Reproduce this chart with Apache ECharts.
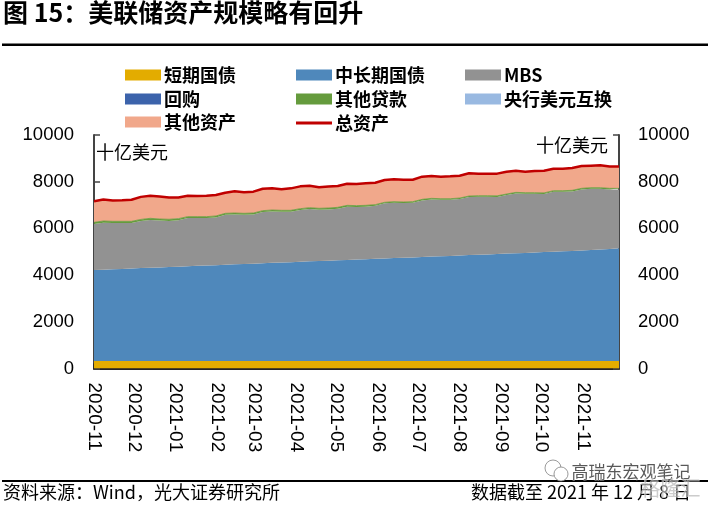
<!DOCTYPE html>
<html><head><meta charset="utf-8">
<style>html,body{margin:0;padding:0;background:#fff}#c{width:712px;height:505px}</style>
<script src="https://cdn.jsdelivr.net/npm/echarts@6/dist/echarts.min.js"></script></head>
<body><div id="c"></div>
<script>
const titleText = '图 15：美联储资产规模略有回升';
const sourceText = '资料来源：Wind，光大证券研究所';
const dateText = '数据截至 2021 年 12 月 8 日';
const unitText = '十亿美元';
const startDate = '2020-11-04';
const endDate = '2021-12-01';
const tickDates = ['2020-11-04','2020-12-04','2021-01-04','2021-02-04','2021-03-04','2021-04-04','2021-05-04','2021-06-04','2021-07-04','2021-08-04','2021-09-04','2021-10-04','2021-11-04'];
const tickLabels = ['2020-11','2020-12','2021-01','2021-02','2021-03','2021-04','2021-05','2021-06','2021-07','2021-08','2021-09','2021-10','2021-11'];
const bills = [326,326,326,326,326,326,326,326,326,326,326,326,326,326,326,326,326,326,326,326,326,326,326,326,326,326,326,326,326,326,326,326,326,326,326,326,326,326,326,326,326,326,326,326,326,326,326,326,326,326,326,326,326,326,326,326,326];
const midLong = [3894,3905,3925,3938,3955,3975,3990,4003,4018,4033,4052,4070,4085,4098,4115,4135,4150,4165,4180,4198,4212,4228,4245,4262,4275,4290,4308,4325,4340,4352,4370,4388,4402,4418,4432,4450,4468,4482,4495,4512,4530,4545,4560,4578,4595,4610,4625,4642,4660,4678,4692,4708,4725,4745,4768,4795,4824];
const mbs = [1970,2016,1982,1969,1952,2014,2046,2004,1976,1989,2065,2047,2032,2048,2144,2139,2109,2109,2194,2204,2176,2160,2214,2239,2199,2197,2208,2277,2249,2250,2276,2358,2372,2341,2342,2423,2448,2419,2406,2417,2485,2484,2469,2446,2506,2562,2533,2516,2489,2566,2552,2551,2619,2627,2604,2549,2520];
const repo = [0,0,0,0,0,0,0,0,0,0,0,0,0,0,0,0,0,0,0,0,0,0,0,0,0,0,0,0,0,0,0,0,0,0,0,0,0,0,0,0,0,0,0,0,0,0,0,0,0,0,0,0,0,0,0,0,0];
const loans = [70,70,70,70,70,70,70,70,70,70,60,60,60,60,60,60,60,60,60,60,60,60,60,60,60,60,60,60,60,60,45,45,45,45,45,45,45,45,45,45,45,45,45,45,45,45,45,45,45,45,45,45,45,45,45,45,45];
const swaps = [1,1,1,1,1,1,1,1,1,1,1,1,1,1,1,1,1,1,1,1,1,1,1,1,1,1,1,1,1,1,1,1,1,1,1,1,1,1,1,1,1,1,1,1,1,1,1,1,1,1,1,1,1,1,1,1,1];
const other = [900,918,897,907,922,965,963,962,930,907,892,882,892,898,885,927,900,913,940,927,898,941,955,943,900,917,913,927,925,942,941,953,955,955,940,971,958,943,958,955,974,945,945,950,958,927,901,929,950,940,940,955,955,942,957,940,940];
const total = [7160,7235,7200,7210,7225,7350,7395,7365,7320,7325,7395,7385,7395,7430,7530,7587,7545,7573,7700,7715,7672,7715,7800,7830,7760,7790,7815,7915,7900,7930,7958,8070,8100,8085,8085,8215,8245,8215,8230,8255,8360,8345,8345,8345,8430,8470,8430,8458,8470,8555,8555,8585,8670,8685,8700,8655,8655];
const weekMs = 7*86400000;
const ts = d => new Date(d+'T00:00:00Z').getTime();
const t0 = ts(startDate);
const t1 = ts(endDate);
const pts = arr => arr.map((v,i)=>[t0+i*weekMs, v]);
const tickTs = tickDates.map(ts);
const cjk = '"Noto Sans CJK SC","Noto Sans",sans-serif';
const axisFont = '"Liberation Sans",Arial,sans-serif';
const band = (name,data,color,lw) => ({name,type:'line',stack:'a',data:pts(data),showSymbol:false,symbol:'none',
  itemStyle:{color},lineStyle:{width:lw||0,color},areaStyle:{color,opacity:1},z:2,animation:false});
const legendSpots = [['短期国债',125,66,'rect',11],['中长期国债',296,66,'rect',11],['MBS',465,66,'rect',11],['回购',125,90,'rect',11],['其他贷款',296,90,'rect',11],['央行美元互换',465,90,'rect',11],['其他资产',125,113,'rect',11],['总资产',296,114,'rect',3]];
const chart = echarts.init(document.getElementById('c'),null,{renderer:'canvas'});
chart.setOption({
  animation:false,backgroundColor:'#fff',
  grid:{left:94,right:93,top:135,height:233.5},
  legend:legendSpots.map(([n,l,t,icon,h])=>({data:[{name:n,icon}],left:l,top:t,padding:0,itemWidth:36,itemHeight:h,itemGap:0,
    textStyle:{fontFamily:cjk,fontSize:18,fontWeight:'bold',color:'#000',padding:[0,0,0,-2]}})),
  xAxis:[
    {type:'time',min:t0,max:t1,show:false},
    {type:'value',min:t0,max:t1,scale:true,position:'bottom',
    axisLine:{onZero:false,lineStyle:{color:'#222',width:2}},
    axisTick:{show:true,inside:true,length:5,lineStyle:{color:'#222',width:1.5},customValues:tickTs},
    splitLine:{show:false},
    axisLabel:{customValues:tickTs,rotate:-90,margin:14,padding:[4,0,0,0],fontFamily:axisFont,fontSize:19,color:'#000',hideOverlap:false,
      formatter:v=>tickLabels[tickTs.indexOf(+v)]||''}}],
  yAxis:[0,1].map(i=>({type:'value',min:0,max:10000,interval:2000,position:i?'right':'left',
    axisLine:{show:true,lineStyle:{color:'#444',width:2}},
    axisTick:{show:true,inside:true,length:6,lineStyle:{color:'#444',width:1.5}},
    splitLine:{show:false},
    axisLabel:{margin:i?19:20,fontFamily:axisFont,fontSize:18.5,color:'#000',formatter:v=>String(v)}})),
  series:[
    band('短期国债',bills,'#E3AC00'),
    band('中长期国债',midLong,'#4F88BB'),
    band('MBS',mbs,'#929292'),
    band('回购',repo,'#3C63AB'),
    band('其他贷款',loans,'#659B3D',0.8),
    band('央行美元互换',swaps,'#99B9E1'),
    band('其他资产',other,'#F1A88B'),
    {name:'总资产',type:'line',data:pts(total),showSymbol:false,symbol:'none',z:5,animation:false,
     itemStyle:{color:'#C00000'},lineStyle:{color:'#C00000',width:2.5}}
  ],
  graphic:[
    {type:'text',left:3,top:0,style:{text:titleText,fontFamily:cjk,fontSize:25,fontWeight:'bold',fill:'#000'}},
    {type:'rect',shape:{x:2,y:43.5,width:706,height:2.5},style:{fill:'#000'}},
    {type:'rect',shape:{x:2,y:480,width:706,height:2},style:{fill:'#000'}},
    {type:'text',left:96,top:143,style:{text:unitText,fontFamily:cjk,fontSize:18,fill:'#000'}},
    {type:'text',left:536,top:136,style:{text:unitText,fontFamily:cjk,fontSize:18,fill:'#000'}},
    {type:'text',left:3,top:483,style:{text:sourceText,fontFamily:cjk,fontSize:18,fill:'#000'}},
    {type:'text',left:471,top:483,style:{text:dateText,fontFamily:cjk,fontSize:18,fill:'#000'}},
    {type:'text',left:571,top:463,z:20,style:{text:'高瑞东宏观笔记',fontFamily:cjk,fontSize:17,fill:'rgba(60,60,60,0.85)',stroke:'rgba(255,255,255,0.7)',lineWidth:1}},
    {type:'text',left:640,top:478,z:20,style:{text:'格隆汇',fontFamily:cjk,fontSize:20,fill:'rgba(170,170,170,0.6)',stroke:'rgba(255,255,255,0.5)',lineWidth:1}},
    {type:'circle',z:20,shape:{cx:553,cy:468,r:8},style:{fill:'#fff',stroke:'rgba(130,130,130,0.8)',lineWidth:1}},
    {type:'circle',z:20,shape:{cx:561,cy:474,r:7},style:{fill:'#fff',stroke:'rgba(130,130,130,0.8)',lineWidth:1}}
  ]
});
</script></body></html>
